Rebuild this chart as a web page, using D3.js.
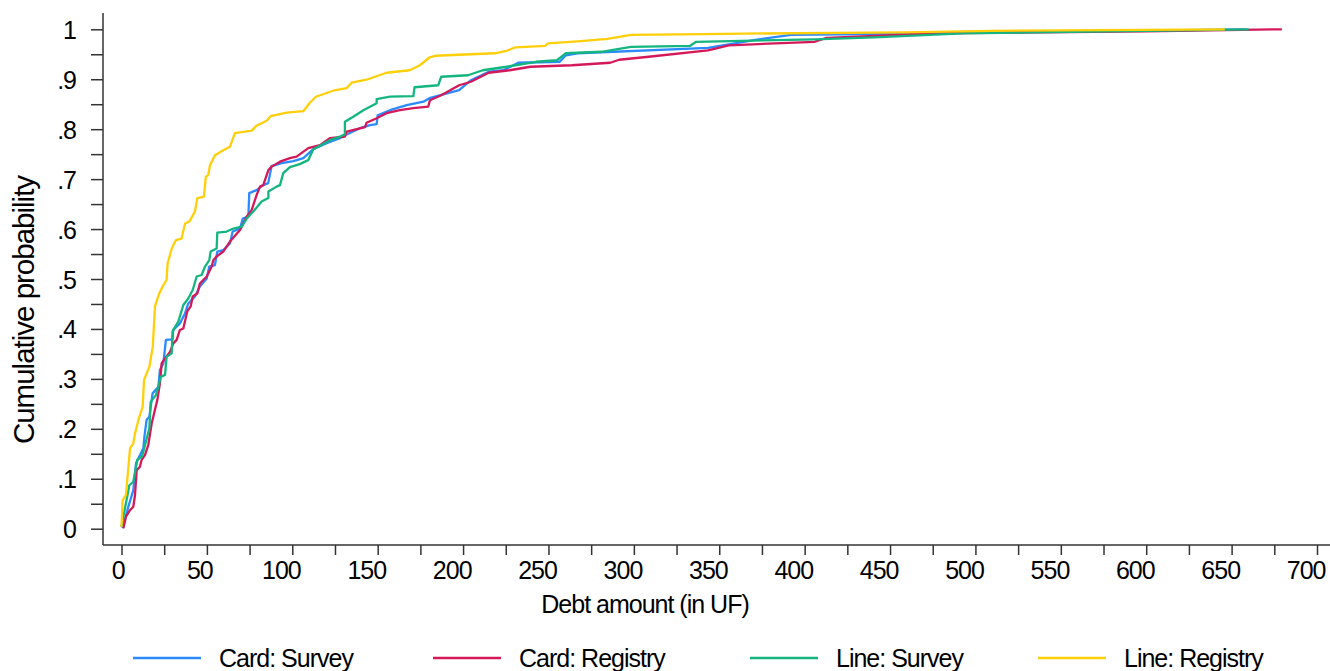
<!DOCTYPE html>
<html>
<head>
<meta charset="utf-8">
<script src="https://cdn.jsdelivr.net/npm/d3@7"></script>
<style>
  html, body { margin: 0; padding: 0; background: #fff; }
  svg text { font-family: "Liberation Sans", Arial, sans-serif; fill: #000; }
</style>
</head>
<body>
<div id="container"></div>
<script>
// series names and colours
const seriesNames = ["Card: Survey", "Card: Registry", "Line: Survey", "Line: Registry"];
const seriesColors = ["#2b8aff", "#d4195a", "#14b57f", "#ffcf0a"];

const cardSurvey = [
  [0.7, 0.001], [4, 0.044], [6.9, 0.077], [8.5, 0.131], [9.9, 0.141], [12.8, 0.161],
  [13.4, 0.184], [14.7, 0.218], [16.3, 0.224], [18.2, 0.271], [21.6, 0.284], [22.5, 0.318],
  [24.5, 0.331], [26, 0.378], [29.9, 0.379], [30.3, 0.398], [34.2, 0.411], [37.2, 0.431],
  [39.1, 0.451], [43, 0.465], [45.9, 0.485], [49.9, 0.501], [51.4, 0.525], [54.7, 0.528],
  [56.1, 0.555], [59.6, 0.558], [63.5, 0.571], [65.1, 0.595], [69.4, 0.601], [71, 0.621],
  [74.3, 0.625], [74.8, 0.672], [79.1, 0.678], [83, 0.688], [85.9, 0.692], [87.9, 0.726],
  [93.8, 0.732], [100.6, 0.736], [106.5, 0.742], [112.3, 0.76], [120.1, 0.772], [127.9, 0.782],
  [130.9, 0.788], [139.6, 0.802], [145.5, 0.808], [149.4, 0.81], [150, 0.828], [157.2, 0.838],
  [167, 0.848], [176.8, 0.855], [180.3, 0.862], [197.7, 0.878], [204.6, 0.898], [215, 0.915],
  [223.7, 0.918], [232.3, 0.933], [256.6, 0.935], [260.2, 0.948], [267.1, 0.952], [343.4, 0.963],
  [371.2, 0.979], [392, 0.989], [475.2, 0.992], [560, 0.996], [658, 1]
];
const cardRegistry = [
  [1.1, 0.001], [2.6, 0.024], [5, 0.037], [6.9, 0.044], [7.9, 0.067], [8.9, 0.117],
  [10.8, 0.124], [11.8, 0.138], [13.8, 0.148], [15.7, 0.168], [17.7, 0.211], [19.6, 0.238],
  [21, 0.258], [22.5, 0.291], [23.5, 0.331], [25.5, 0.341], [28.4, 0.354], [30.3, 0.371],
  [32.3, 0.378], [34.2, 0.398], [36.2, 0.401], [38.5, 0.435], [40.5, 0.445], [41.7, 0.465],
  [44.4, 0.471], [45.9, 0.491], [49.9, 0.505], [52.8, 0.525], [53.8, 0.538], [55.7, 0.545],
  [59.6, 0.555], [63.5, 0.575], [69.4, 0.598], [73.3, 0.625], [76.2, 0.638], [79.1, 0.668],
  [81.1, 0.685], [83, 0.688], [86, 0.718], [87.9, 0.725], [92.8, 0.735], [98.6, 0.742],
  [102.5, 0.745], [109.4, 0.762], [116.2, 0.768], [122, 0.782], [130.8, 0.785], [131.8, 0.795],
  [142.6, 0.804], [143.5, 0.813], [149.4, 0.822], [155.2, 0.832], [163, 0.838], [170.9, 0.842],
  [179.6, 0.845], [180.6, 0.858], [187.2, 0.868], [197.7, 0.888], [204.6, 0.895], [215, 0.913],
  [227.2, 0.918], [239.4, 0.925], [263.6, 0.928], [286.2, 0.933], [291.4, 0.939], [308.7, 0.945],
  [343.4, 0.958], [355.6, 0.968], [405.9, 0.975], [412.8, 0.983], [475.2, 0.992], [600, 0.996],
  [679.4, 1]
];
const lineSurvey = [
  [0, 0.004], [4.6, 0.087], [6.9, 0.094], [9.3, 0.138], [11.8, 0.144], [12.8, 0.154],
  [16.3, 0.201], [17.1, 0.254], [20.2, 0.268], [22.1, 0.291], [22.9, 0.304], [25.5, 0.308],
  [26.4, 0.344], [29.4, 0.351], [29.9, 0.395], [33.3, 0.415], [36.2, 0.448], [39.1, 0.461],
  [41.7, 0.478], [44, 0.505], [46.9, 0.508], [48.9, 0.525], [51.4, 0.538], [52.2, 0.555],
  [55.7, 0.561], [56.1, 0.593], [61.6, 0.595], [65.5, 0.601], [70.4, 0.605], [73.3, 0.621],
  [77.2, 0.635], [82, 0.655], [86, 0.662], [86, 0.675], [90.8, 0.685], [92.8, 0.688],
  [94.7, 0.712], [98.6, 0.724], [104.4, 0.73], [109.3, 0.738], [112.3, 0.76], [122, 0.778],
  [127.9, 0.785], [130.8, 0.79], [130.8, 0.815], [135.7, 0.825], [141.6, 0.838], [149.4, 0.852],
  [149.4, 0.86], [157.2, 0.865], [170.9, 0.866], [171.6, 0.884], [185.5, 0.888], [187.2, 0.905],
  [202.9, 0.908], [211.5, 0.918], [225.5, 0.925], [242.8, 0.935], [255, 0.938], [260.2, 0.952],
  [281, 0.955], [298.3, 0.965], [333, 0.967], [336.5, 0.975], [405.9, 0.98], [440.6, 0.984],
  [492.7, 0.992], [600, 0.997], [660, 1]
];
const lineRegistry = [
  [0, 0.004], [0.7, 0.057], [2.6, 0.067], [5, 0.161], [6.9, 0.171], [7.9, 0.19],
  [10.4, 0.224], [12.4, 0.244], [13.2, 0.298], [16.3, 0.324], [18.3, 0.364], [19.6, 0.445],
  [22.1, 0.471], [24.1, 0.485], [26.4, 0.498], [27, 0.531], [29.4, 0.561], [31.9, 0.578],
  [35.2, 0.581], [37.2, 0.611], [39.7, 0.615], [43, 0.635], [44.4, 0.662], [48.3, 0.665],
  [49.4, 0.705], [50.8, 0.708], [51.8, 0.728], [54.7, 0.748], [59.6, 0.758], [63.5, 0.765],
  [66.4, 0.792], [76.2, 0.797], [79.1, 0.807], [85, 0.817], [87.3, 0.826], [92.7, 0.83],
  [96.7, 0.833], [106.4, 0.836], [110.3, 0.853], [113.8, 0.865], [123.9, 0.877], [131.8, 0.882],
  [134.7, 0.893], [143.5, 0.899], [149.3, 0.906], [155.2, 0.913], [168.8, 0.918], [174.7, 0.928],
  [180.5, 0.944], [183.8, 0.947], [218.5, 0.952], [225.5, 0.957], [230.7, 0.964], [248, 0.967],
  [249.7, 0.972], [267.1, 0.976], [284.4, 0.981], [298.3, 0.989], [353.8, 0.991], [457.8, 0.994],
  [509.9, 0.997], [646, 1]
];
const seriesData = [cardSurvey, cardRegistry, lineSurvey, lineRegistry];

// axis ticks
const xTicks = d3.range(0, 701, 25);
const yTicks = d3.range(0, 21).map(d => d / 20);
const yLabels = ["0", ".1", ".2", ".3", ".4", ".5", ".6", ".7", ".8", ".9", "1"];

const width = 1330;
const height = 671;
const axisX = 103;   // y axis line position
const axisY = 545;   // x axis line position

const svg = d3.select("#container")
  .append("svg")
  .attr("width", width)
  .attr("height", height);

const x = d3.scaleLinear().domain([0, 700]).range([121.5, 1317]);
const y = d3.scaleLinear().domain([0, 1]).range([528.7, 29.3]);

const fontSize = 25;
const spacing = "-1px";

// x axis
const xAxis = d3.axisBottom(x)
  .tickValues(xTicks)
  .tickSize(10)
  .tickSizeOuter(0)
  .tickPadding(6)
  .tickFormat(d => (d % 50 === 0 ? d : ""));

const gx = svg.append("g")
  .attr("transform", `translate(0,${axisY})`)
  .call(xAxis);
gx.select(".domain").remove();
gx.selectAll(".tick line").attr("stroke", "#333").attr("stroke-width", 1.5);
gx.selectAll(".tick text")
  .attr("font-size", fontSize)
  .attr("letter-spacing", spacing)
  .attr("y", 16)
  .attr("dy", "0.71em")
  .attr("dx", function () { return -3.8 * this.textContent.length; });

// y axis
const yAxis = d3.axisLeft(y)
  .tickValues(yTicks)
  .tickSize(12)
  .tickSizeOuter(0)
  .tickPadding(15)
  .tickFormat((d, i) => (i % 2 === 0 ? yLabels[i / 2] : ""));

const gy = svg.append("g")
  .attr("transform", `translate(${axisX},0)`)
  .call(yAxis);
gy.select(".domain").remove();
gy.selectAll(".tick line").attr("stroke", "#333").attr("stroke-width", 1.5);
gy.selectAll(".tick text")
  .attr("font-size", fontSize)
  .attr("letter-spacing", spacing)
  .attr("dy", "0.36em");

// axis lines
svg.append("line")
  .attr("x1", axisX).attr("x2", axisX)
  .attr("y1", 13).attr("y2", axisY)
  .attr("stroke", "#333").attr("stroke-width", 1.5);
svg.append("line")
  .attr("x1", axisX).attr("x2", width)
  .attr("y1", axisY).attr("y2", axisY)
  .attr("stroke", "#333").attr("stroke-width", 1.5);

// axis titles
svg.append("text")
  .attr("transform", `translate(33.5,310) rotate(-90)`)
  .attr("text-anchor", "middle")
  .attr("font-size", 29.5)
  .attr("letter-spacing", spacing)
  .text("Cumulative probability");

svg.append("text")
  .attr("x", 645)
  .attr("y", 613)
  .attr("text-anchor", "middle")
  .attr("font-size", fontSize)
  .attr("letter-spacing", spacing)
  .text("Debt amount (in UF)");

// curves
const line = d3.line()
  .x(d => x(d[0]))
  .y(d => y(d[1]));

svg.append("g")
  .selectAll("path")
  .data(seriesData)
  .join("path")
  .attr("fill", "none")
  .attr("stroke", (d, i) => seriesColors[i])
  .attr("stroke-width", 2.3)
  .attr("stroke-linejoin", "round")
  .attr("d", line);

// legend
const legendX = [133, 433, 750, 1038];
const legendY = 658;
const legend = svg.append("g")
  .selectAll("g")
  .data(seriesNames)
  .join("g")
  .attr("transform", (d, i) => `translate(${legendX[i]},${legendY})`);

legend.append("line")
  .attr("x1", 0).attr("x2", 68)
  .attr("stroke", (d, i) => seriesColors[i])
  .attr("stroke-width", 2.3);

legend.append("text")
  .attr("x", 86)
  .attr("dy", "0.36em")
  .attr("font-size", fontSize)
  .attr("letter-spacing", spacing)
  .text(d => d);
</script>
</body>
</html>
